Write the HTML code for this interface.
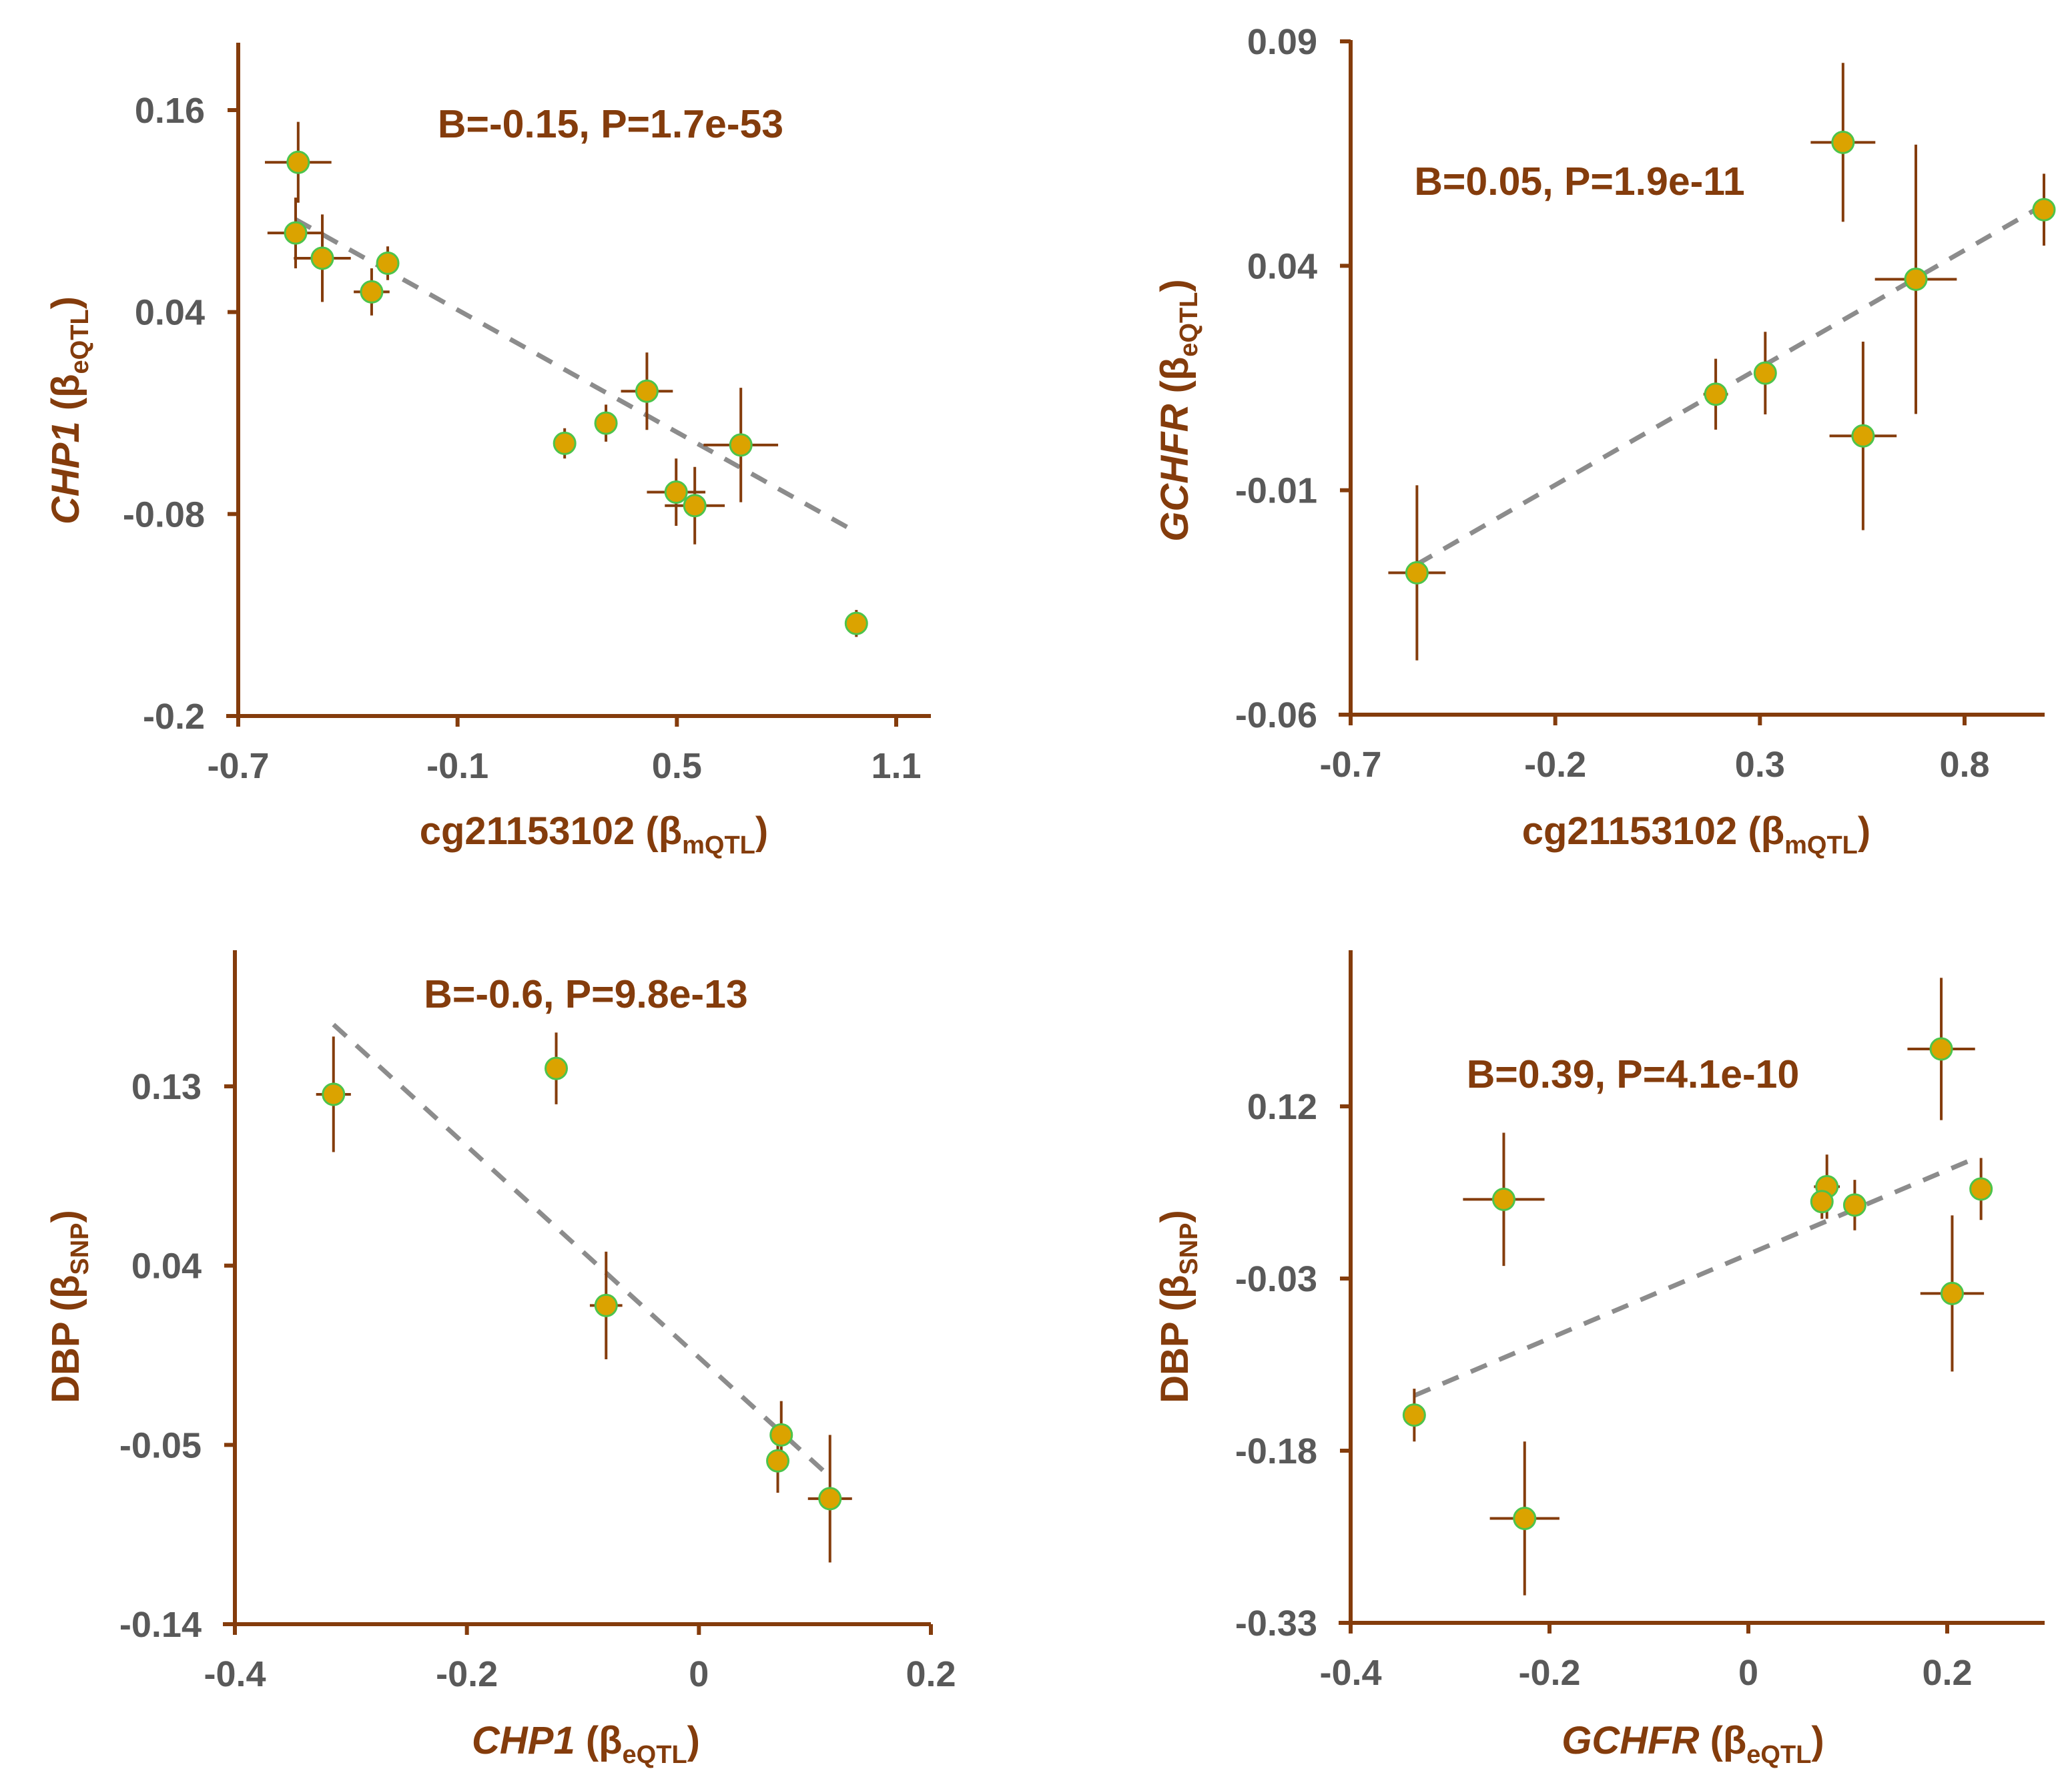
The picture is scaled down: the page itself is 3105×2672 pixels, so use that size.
<!DOCTYPE html>
<html><head><meta charset="utf-8"><style>
html,body{margin:0;padding:0;background:#fff}
svg{display:block}
text{font-family:"Liberation Sans",sans-serif;font-weight:bold}
</style></head><body>
<svg id="fig" width="3105" height="2672" viewBox="0 0 3105 2672" xmlns="http://www.w3.org/2000/svg"></svg>
<script>
// Panel A: CHP1 vs cg21153102
const aX=[-0.536,-0.543,-0.470,-0.335,-0.291,0.193,0.306,0.418,0.498,0.549,0.675,0.991];
const aY=[0.129,0.087,0.072,0.052,0.069,-0.038,-0.026,-0.007,-0.067,-0.075,-0.039,-0.145];
const aXe=[0.091,0.077,0.078,0.049,0.022,0.015,0.027,0.071,0.080,0.082,0.102,0.009];
const aYe=[0.024,0.021,0.026,0.014,0.010,0.009,0.011,0.023,0.020,0.023,0.034,0.008];
const aXt=[-0.7,-0.1,0.5,1.1], aYt=[0.16,0.04,-0.08,-0.2];
const aXtl=["-0.7","-0.1","0.5","1.1"], aYtl=["0.16","0.04","-0.08","-0.2"];
const aFit=[[-0.543,0.095],[0.976,-0.089]];
// Panel B: GCHFR vs cg21153102
const bX=[-0.538,0.192,0.313,0.503,0.552,0.681,0.994];
const bY=[-0.0284,0.0114,0.0161,0.0675,0.0021,0.0370,0.0525];
const bXe=[0.070,0.030,0.008,0.079,0.082,0.100,0.005];
const bYe=[0.0195,0.0079,0.0092,0.0177,0.0210,0.0300,0.0080];
const bXt=[-0.7,-0.2,0.3,0.8], bYt=[0.09,0.04,-0.01,-0.06];
const bXtl=["-0.7","-0.2","0.3","0.8"], bYtl=["0.09","0.04","-0.01","-0.06"];
const bFit=[[-0.538,-0.0265],[0.994,0.0536]];
// Panel C: DBP vs CHP1
const cX=[-0.315,-0.123,-0.080,0.071,0.068,0.113];
const cY=[0.126,0.139,0.020,-0.045,-0.058,-0.077];
const cXe=[0.015,0.002,0.014,0.003,0.002,0.019];
const cYe=[0.029,0.018,0.027,0.017,0.016,0.032];
const cXt=[-0.4,-0.2,0,0.2], cYt=[0.13,0.04,-0.05,-0.14];
const cXtl=["-0.4","-0.2","0","0.2"], cYtl=["0.13","0.04","-0.05","-0.14"];
const cFit=[[-0.315,0.161],[0.113,-0.066]];
// Panel D: DBP vs GCHFR
const dX=[-0.336,-0.246,-0.225,0.079,0.074,0.107,0.194,0.205,0.234];
const dY=[-0.149,0.039,-0.239,0.050,0.037,0.034,0.170,-0.043,0.048];
const dXe=[0.005,0.041,0.035,0.013,0.002,0.002,0.034,0.032,0.002];
const dYe=[0.023,0.058,0.067,0.028,0.015,0.022,0.062,0.068,0.027];
const dXt=[-0.4,-0.2,0,0.2], dYt=[0.12,-0.03,-0.18,-0.33];
const dXtl=["-0.4","-0.2","0","0.2"], dYtl=["0.12","-0.03","-0.18","-0.33"];
const dFit=[[-0.336,-0.132],[0.226,0.074]];

const NS="http://www.w3.org/2000/svg";
const svg=document.getElementById('fig');
const BROWN="#843c0c", GRAY="#595959";
function mk(tag,attrs,parent){const e=document.createElementNS(NS,tag);for(const k in attrs)e.setAttribute(k,attrs[k]);parent.appendChild(e);return e;}

const panels=[
 {id:'chp1-vs-cg',ox:0,oy:0,x0:357,x1:1343,xa:1395,ytop:64,y0:1073,y1:165,xd:[-0.7,1.1],yd:[-0.2,0.16],
  X:aX,Y:aY,Xe:aXe,Ye:aYe,Xt:aXt,Yt:aYt,Xtl:aXtl,Ytl:aYtl,fit:aFit,ann:"B=-0.15, P=1.7e-53",annX:915,annY:206,
  xl:[["cg21153102 ",false],["(β",false],["mQTL",false,true],[")",false]],xlX:890,xlY:1265,
  yl:[["CHP1",true],[" (β",false],["eQTL",false,true],[")",false]],ylX:118,ylY:615},
 {id:'gchfr-vs-cg',ox:1552,oy:0,x0:472,x1:1392,xa:1512,ytop:60,y0:1071,y1:62,xd:[-0.7,0.8],yd:[-0.06,0.09],
  X:bX,Y:bY,Xe:bXe,Ye:bYe,Xt:bXt,Yt:bYt,Xtl:bXtl,Ytl:bYtl,fit:bFit,ann:"B=0.05, P=1.9e-11",annX:815,annY:292,
  xl:[["cg21153102 ",false],["(β",false],["mQTL",false,true],[")",false]],xlX:990,xlY:1265,
  yl:[["GCHFR",true],[" (β",false],["eQTL",false,true],[")",false]],ylX:228,ylY:615},
 {id:'dbp-vs-chp1',ox:0,oy:1336,x0:352,x1:1395,xa:1395,ytop:88,y0:1098,y1:292,xd:[-0.4,0.2],yd:[-0.14,0.13],
  X:cX,Y:cY,Xe:cXe,Ye:cYe,Xt:cXt,Yt:cYt,Xtl:cXtl,Ytl:cYtl,fit:cFit,ann:"B=-0.6, P=9.8e-13",annX:878,annY:174,
  xl:[["CHP1",true],[" (β",false],["eQTL",false,true],[")",false]],xlX:878,xlY:1292,
  yl:[["DBP (β",false],["SNP",false,true],[")",false]],ylX:118,ylY:622},
 {id:'dbp-vs-gchfr',ox:1552,oy:1336,x0:472,x1:1366,xa:1512,ytop:88,y0:1096,y1:322,xd:[-0.4,0.2],yd:[-0.33,0.12],
  X:dX,Y:dY,Xe:dXe,Ye:dYe,Xt:dXt,Yt:dYt,Xtl:dXtl,Ytl:dYtl,fit:dFit,ann:"B=0.39, P=4.1e-10",annX:895,annY:294,
  xl:[["GCHFR",true],[" (β",false],["eQTL",false,true],[")",false]],xlX:985,xlY:1292,
  yl:[["DBP (β",false],["SNP",false,true],[")",false]],ylX:228,ylY:622}
];

function addLabel(g,parts,x,y,rot,name){
  const t=mk('text',{x:x,y:y,'text-anchor':'middle','font-size':58,fill:BROWN},g);
  if(rot) t.setAttribute('transform','rotate(-90 '+x+' '+y+')');
  
  
  parts.forEach(p=>{
    const s=mk('tspan',{},t);
    if(p[1]) s.setAttribute('font-style','italic');
    if(p[2]){s.setAttribute('font-size',38);s.setAttribute('dy',14);}
    else if(s.previousSibling&&s.previousSibling.getAttribute('dy')==='14'){s.setAttribute('dy',-14);}
    s.textContent=p[0];
  });
}

panels.forEach(p=>{
  const g=mk('g',{transform:'translate('+p.ox+','+p.oy+')'},svg);
  
  
  const sx=v=>p.x0+(v-p.xd[0])/(p.xd[1]-p.xd[0])*(p.x1-p.x0);
  const sy=v=>p.y0-(v-p.yd[0])/(p.yd[1]-p.yd[0])*(p.y0-p.y1);
  const ya=mk('line',{x1:p.x0,y1:p.ytop,x2:p.x0,y2:p.y0+3,stroke:BROWN,'stroke-width':6},g);
  
  
  const xa=mk('line',{x1:p.x0-18,y1:p.y0,x2:p.xa,y2:p.y0,stroke:BROWN,'stroke-width':6},g);
  
  
  p.Xt.forEach((v,i)=>{
    const x=sx(v);
    const tk=mk('line',{x1:x,y1:p.y0,x2:x,y2:p.y0+16,stroke:BROWN,'stroke-width':6},g);
    
    
    const t=mk('text',{x:x,y:p.y0+93,'text-anchor':'middle','font-size':54,fill:GRAY},g);
    
    
    t.textContent=p.Xtl[i];
  });
  p.Yt.forEach((v,i)=>{
    const y=sy(v);
    const tk=mk('line',{x1:p.x0-16,y1:y,x2:p.x0,y2:y,stroke:BROWN,'stroke-width':6},g);
    
    
    const t=mk('text',{x:p.x0-50,y:y+19,'text-anchor':'end','font-size':54,fill:GRAY},g);
    
    
    t.textContent=p.Ytl[i];
  });
  const fl=mk('line',{x1:sx(p.fit[0][0]),y1:sy(p.fit[0][1]),x2:sx(p.fit[1][0]),y2:sy(p.fit[1][1]),stroke:'#8c8c8c','stroke-width':7,'stroke-dasharray':'26 20'},g);
  
  
  p.X.forEach((xv,i)=>{
    const cx=sx(xv), cy=sy(p.Y[i]);
    const h=mk('line',{x1:sx(xv-p.Xe[i]),y1:cy,x2:sx(xv+p.Xe[i]),y2:cy,stroke:BROWN,'stroke-width':4},g);
    
    
    const v=mk('line',{x1:cx,y1:sy(p.Y[i]-p.Ye[i]),x2:cx,y2:sy(p.Y[i]+p.Ye[i]),stroke:BROWN,'stroke-width':4},g);
    
    
  });
  p.X.forEach((xv,i)=>{
    const c=mk('circle',{cx:sx(xv),cy:sy(p.Y[i]),r:16,fill:'#dba300',stroke:'#4cc44c','stroke-width':3},g);
    
    
  });
  const an=mk('text',{x:p.annX,y:p.annY,'text-anchor':'middle','font-size':59,fill:BROWN},g);
  
  
  an.textContent=p.ann;
  addLabel(g,p.xl,p.xlX,p.xlY,false,'x-axis-title');
  addLabel(g,p.yl,p.ylX,p.ylY,true,'y-axis-title');
});
</script>
</body></html>
